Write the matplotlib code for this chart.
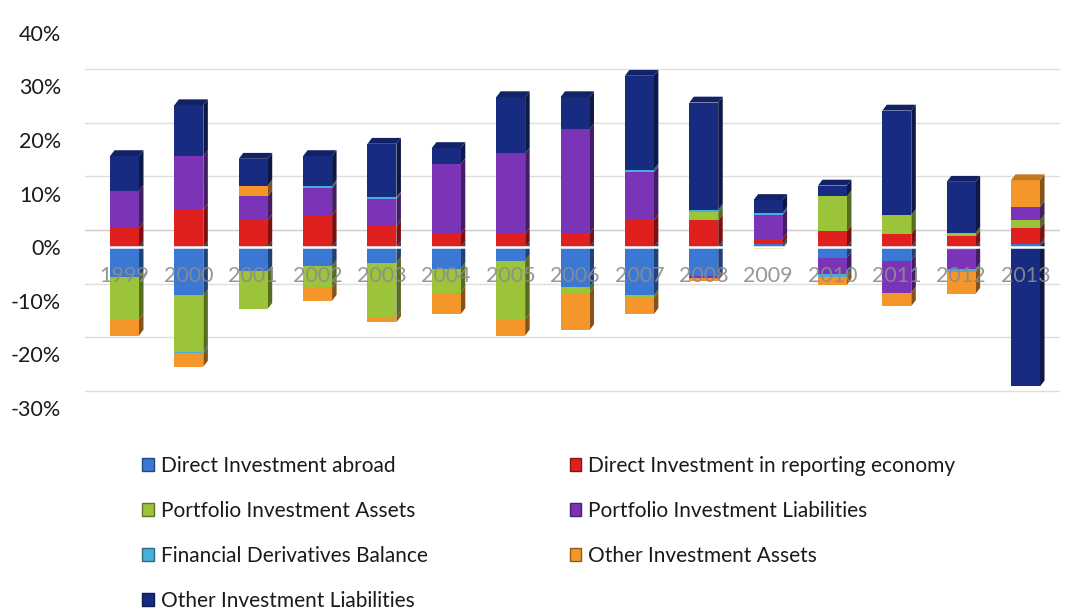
import numpy as np
import matplotlib.pyplot as plt
from matplotlib.patches import Patch, Polygon
from matplotlib.colors import to_rgb
from matplotlib.ticker import FuncFormatter

plt.rcParams['font.family'] = ['Lato', 'DejaVu Sans']

years = [str(y) for y in range(1999, 2014)]

# values in % of GDP
di_abroad = [-5.5, -9, -4.5, -3.5, -3, -4, -2.5, -7.5, -9, -5.3, 0.6, -2, -2.5, -0.5, 0.5]
di_reporting = [3.5, 7, 5, 6, 4, 2.5, 2.5, 2.5, 5, 5, 0.9, 3, 2.5, 2, 3]
pi_assets = [-8, -10.5, -7, -4, -10, -4.5, -11, -1, -0.5, 1.5, 0, 6.5, 3.5, 0.7, 1.5]
pi_liab = [7, 10, 4.5, 5, 5, 13, 15, 19.5, 9, -0.5, 4.5, -3, -6, -3.5, 2.5]
fin_deriv = [0, -0.3, 0, 0.5, 0.3, 0, 0, 0, 0.5, 0.5, 0.4, -0.5, 0, -0.7, 0]
oi_assets = [-3, -2.5, 2, -2.5, -1, -4, -3, -7, -3, -0.5, -0.3, -1.5, -2.5, -4, 5]
oi_liab = [6.5, 9.5, 5, 5.5, 10, 3, 10.5, 6, 17.5, 20, 2.4, 2, 19.5, 9.5, -26]

series = [
    ('Direct Investment abroad', di_abroad, '#3a78d4'),
    ('Direct Investment in reporting economy', di_reporting, '#e0201f'),
    ('Portfolio Investment Assets', pi_assets, '#9cc43a'),
    ('Portfolio Investment Liabilities', pi_liab, '#7b34b8'),
    ('Financial Derivatives Balance', fin_deriv, '#45b0d8'),
    ('Other Investment Assets', oi_assets, '#f4962a'),
    ('Other Investment Liabilities', oi_liab, '#172b80'),
]

fig = plt.figure(figsize=(10.71, 6.11), dpi=100)
ax = fig.add_axes([0.079, 0.315, 0.911, 0.653])
ax.set_xlim(-0.62, 14.54)
ax.set_ylim(-32, 42.5)

# back-wall gridlines (3d look: shifted up a bit)
depth_y = 3.2
for v in range(-30, 50, 10):
    ax.axhline(v + depth_y, color='#dedede', lw=1.0, zorder=0)

w = 0.45
dx, dy = 0.07, 1.1


def darker(c, f):
    r, g, b = to_rgb(c)
    return (r * f, g * f, b * f)


x = np.arange(len(years))
for i in x:
    pos, neg = 0.0, 0.0
    segs = []
    for name, vals, col in series:
        v = vals[i]
        if v >= 0:
            segs.append((pos, pos + v, col, 1))
            pos += v
        else:
            segs.append((neg + v, neg, col, -1))
            neg += v
    # negatives first, then positives
    order = [s for s in segs if s[3] < 0] + [s for s in segs if s[3] > 0]
    for b, t, col, sgn in order:
        if t - b <= 0:
            continue
        ax.bar(i, t - b, bottom=b, width=w, color=col, edgecolor='none', zorder=3)
        xr = i + w / 2
        side = Polygon([(xr, b), (xr + dx, b + dy), (xr + dx, t + dy), (xr, t)],
                       closed=True, facecolor=darker(col, 0.55), edgecolor='none', zorder=2.9)
        ax.add_patch(side)
    # top face of positive stack
    top_col = None
    for b, t, col, sgn in order:
        if sgn > 0 and t - b > 0:
            top_col = col
    if top_col is not None:
        xl = i - w / 2
        xr = i + w / 2
        topf = Polygon([(xl, pos), (xl + dx, pos + dy), (xr + dx, pos + dy), (xr, pos)],
                       closed=True, facecolor=darker(top_col, 0.8), edgecolor='none', zorder=3.1)
        ax.add_patch(topf)

# zero line across the front
ax.axhline(0, color='white', lw=1.8, zorder=4)
ax.axhline(0 + depth_y, color='#d0d0d0', lw=1.0, zorder=0.5)

for i, yr in zip(x, years):
    ax.text(i, -5.3, yr, ha='center', va='center', fontsize=15.5,
            color='#8c8c8c', alpha=0.9, zorder=5)

ax.set_xticks([])
ax.set_yticks(range(-30, 50, 10))
ax.yaxis.set_major_formatter(FuncFormatter(lambda v, p: f'{v:.0f}%'))
ax.tick_params(axis='y', length=0, pad=17, labelsize=15.5, labelcolor='#1a1a1a')
for s in ax.spines.values():
    s.set_visible(False)

handles = [Patch(facecolor=c, edgecolor=darker(c, 0.6), label=n) for n, _, c in series]
idx = [0, 2, 4, 6, 1, 3, 5]
leg = fig.legend([handles[k] for k in idx], [series[k][0] for k in idx],
                 loc='upper left', bbox_to_anchor=(0.133, 0.254), ncol=2,
                 frameon=False, fontsize=15, handlelength=0.55, handleheight=0.55,
                 handletextpad=0.35, columnspacing=6.8, labelspacing=1.2,
                 borderaxespad=0, borderpad=0)
for t in leg.get_texts():
    t.set_color('#1a1a1a')

fig.savefig('out.png', dpi=100)
